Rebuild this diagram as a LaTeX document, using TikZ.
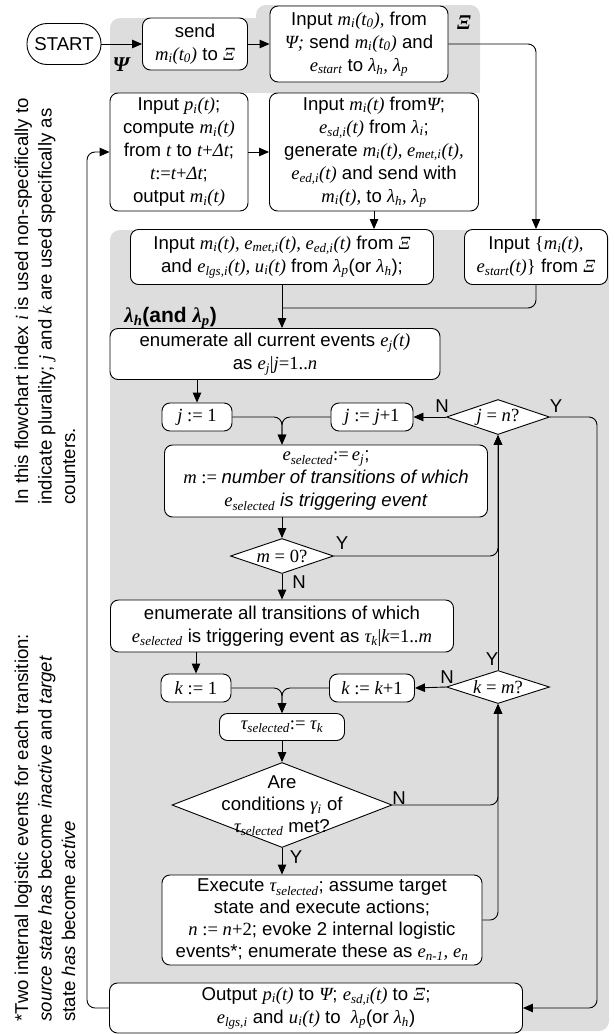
\documentclass[tikz,border=0pt]{standalone}
\usepackage{fontspec}
\setmainfont{Liberation Sans}
\newfontfamily\tms{Liberation Serif}
\usetikzlibrary{shapes.geometric,arrows.meta}
\definecolor{panel}{RGB}{221,221,221}
% variables and symbols in Times-like italic, operators upright
\newcommand\mth[1]{{\tms\itshape #1}}
\newcommand\up[1]{{\tms #1}}
\newcommand\sbx[1]{\textsubscript{#1}}

\begin{document}
\begin{tikzpicture}[x=1pt,y=-1pt,
  font=\fontsize{18.6}{23}\selectfont,
  line width=0.9pt,
  box/.style={draw, fill=white, rounded corners=8, inner sep=0pt, align=center},
  decision/.style={draw, fill=white, diamond, inner sep=0pt},
  arr/.style={-{Triangle[length=10pt,width=8.5pt]}},
  yn/.style={inner sep=0pt},
  note/.style={rotate=90, anchor=base west, inner sep=0pt},
  panellab/.style={inner sep=0pt, font=\fontsize{21}{24}\selectfont\bfseries},
]
\useasboundingbox (0,0) rectangle (614,1034);

% background panels
\fill[panel, rounded corners=10] (110,18) rectangle (270,93);
\fill[panel, rounded corners=10] (256,5) rectangle (480,93);
\fill[panel] (110,60) rectangle (480,93);
\fill[panel, rounded corners=10] (110,230) rectangle (609,1031);

% panel labels
\node[panellab] (psilab) at (121,65) {\mth{Ψ}};
\node[panellab] (xilab) at (464,23) {\mth{Ξ}};
\node[panellab, anchor=west] (lamlab) at (124,318) {\mth{λ\sbx{h}}(and \mth{λ\sbx{p}})};

% process boxes
\node[box, rounded corners=20, minimum width=74, minimum height=41] (start) at (64,44) {START};
\node[box, minimum width=105, minimum height=52] (send) at (195,44) {send\\\mth{m\sbx{i}(t\sbx{0})} to \mth{Ξ}};
\node[box, minimum width=178, minimum height=76] (xin) at (359,44) {Input \mth{m\sbx{i}(t\sbx{0}),} from\\\mth{Ψ;} send \mth{m\sbx{i}(t\sbx{0})} and\\\mth{e\sbx{start}} to \mth{λ\sbx{h},} \mth{λ\sbx{p}}};
\node[box, minimum width=138, minimum height=118] (comp) at (179,152) {Input \mth{p\sbx{i}(t)};\\compute \mth{m\sbx{i}(t)}\\from \mth{t} to \mth{t}\up{+}\mth{Δt};\\\mth{t}\up{:=}\mth{t}\up{+}\mth{Δt};\\output \mth{m\sbx{i}(t)}};
\node[box, minimum width=209, minimum height=118] (gen) at (374,152) {Input \mth{m\sbx{i}(t)} from\mth{Ψ};\\\mth{e\sbx{sd,i}(t)} from \mth{λ\sbx{i}};\\generate \mth{m\sbx{i}(t), e\sbx{met,i}(t),}\\\mth{e\sbx{ed,i}(t)} and send with\\\mth{m\sbx{i}(t),} to \mth{λ\sbx{h}, λ\sbx{p}}};
\node[box, minimum width=303, minimum height=55] (lin) at (282,257) {Input \mth{m\sbx{i}(t), e\sbx{met,i}(t), e\sbx{ed,i}(t)} from \mth{Ξ}\\and \mth{e\sbx{lgs,i}(t), u\sbx{i}(t)} from \mth{λ\sbx{p}}(or \mth{λ\sbx{h}});};
\node[box, minimum width=143, minimum height=55] (sin) at (536,257) {Input \up{\{}\mth{m\sbx{i}(t),}\\\mth{e\sbx{start}(t)}\up{\}} from \mth{Ξ}};
\node[box, minimum width=330, minimum height=51] (enev) at (275,354) {enumerate all current events \mth{e\sbx{j}(t)}\\as \mth{e\sbx{j}}\up{|}\mth{j}\up{=1..}\mth{n}};
\node[box, minimum width=70, minimum height=28] (j1) at (197,417) {\mth{j}\up{ := 1}};
\node[box, minimum width=82, minimum height=28] (jinc) at (372,417) {\mth{j}\up{ := }\mth{j}\up{+1}};
\node[decision, minimum width=103, minimum height=35] (jn) at (498,417) {};
\node[inner sep=0] (jnt) at (498,417) {\mth{j}\up{ = }\mth{n}\up{?}};
\node[box, minimum width=323, minimum height=72] (esel) at (326,481) {\mth{e\sbx{selected}}\up{:=}\,\mth{e\sbx{j}};\\\mth{m}\up{ := }\textit{number of transitions of which}\\\mth{e\sbx{selected}} \textit{is triggering event}};
\node[decision, minimum width=103, minimum height=35] (m0) at (282,556) {};
\node[inner sep=0] (m0t) at (282,556) {\mth{m}\up{ = 0?}};
\node[box, minimum width=343, minimum height=52] (entr) at (282,626) {enumerate all transitions of which\\\mth{e\sbx{selected}} is triggering event as \mth{τ\sbx{k}}\up{|}\mth{k}\up{=1..}\mth{m}};
\node[box, minimum width=70, minimum height=28] (k1) at (196,688) {\mth{k}\up{ := 1}};
\node[box, minimum width=85, minimum height=28] (kinc) at (372,688) {\mth{k}\up{ := }\mth{k}\up{+1}};
\node[decision, minimum width=103, minimum height=33] (km) at (498,687) {};
\node[inner sep=0] (kmt) at (498,687) {\mth{k}\up{ = }\mth{m}\up{?}};
\node[box, minimum width=125, minimum height=27] (tsel) at (282,727) {\mth{τ\sbx{selected}}\up{:= }\mth{τ\sbx{k}}};
\node[decision, minimum width=220, minimum height=85] (cond) at (282,805) {};
\node[inner sep=0, align=center, font=\fontsize{18.6}{22}\selectfont] (condt) at (282,806) {Are\\conditions \mth{γ\sbx{i}} of\\\mth{τ\sbx{selected}} met?};
\node[box, minimum width=320, minimum height=90, font=\fontsize{18.6}{22}\selectfont] (exe) at (322,920) {Execute \mth{τ\sbx{selected}}; assume target\\state and execute actions;\\\mth{n}\up{ := }\mth{n}\up{+2}; evoke 2 internal logistic\\events*; enumerate these as \mth{e\sbx{n-1}, e\sbx{n}}};
\node[box, minimum width=413, minimum height=50] (out) at (316,1008) {Output \mth{p\sbx{i}(t)} to \mth{Ψ}; \mth{e\sbx{sd,i}(t)} to \mth{Ξ};\\\mth{e\sbx{lgs,i}} and \mth{u\sbx{i}(t)} to \ \mth{λ\sbx{p}}(or \mth{λ\sbx{h}})};

% routing points
\coordinate (rr) at (597,417);
\coordinate (lx) at (87,1008);
\coordinate (mrg) at (282,308);

% connectors
\draw[arr] (start.east) -- (send.west);
\draw[arr] (send.east) -- (xin.west);
\draw[arr, rounded corners=8] (xin.east) -| (sin.north);
\draw[arr] (comp.east) -- (gen.west);
\draw[arr] (gen.south) -- (gen.south |- lin.north);
\draw[arr] (lin.south) -- (lin.south |- enev.north);
\draw[rounded corners=8] (sin.south) |- (mrg);
\draw[arr] (enev.south -| j1.north) -- (j1.north);
\draw[arr, rounded corners=8] (j1.east) -| (esel.north -| m0.north);
\draw[arr, rounded corners=8] (jinc.west) -| (esel.north -| m0.north);
\draw[arr] (jn.west) -- (jinc.east);
\draw[arr, rounded corners=8] (jn.east) -- (rr) |- (out.east);
\draw[arr] (esel.south -| m0.north) -- (m0.north);
\draw[arr, rounded corners=8] (m0.east) -| (jn.south);
\draw[arr] (m0.south) -- (entr.north);
\draw[arr] (entr.south -| k1.north) -- (k1.north);
\draw[arr, rounded corners=8] (k1.east) -| (tsel.north);
\draw[arr, rounded corners=8] (kinc.west) -| (tsel.north);
\draw[arr] (km.west) -- (kinc.east);
\draw[arr] (km.north) -- (jn.south);
\draw[arr] (tsel.south) -- (cond.north);
\draw[arr, rounded corners=8] (cond.east) -| (km.south);
\draw[arr] (cond.south) -- (exe.north -| cond.south);
\draw[arr, rounded corners=8] (exe.east) -| (km.south);
\draw[arr, rounded corners=8] (out.west) -- (lx) |- (comp.west);

% branch labels
\node[yn] (jnN) at (442,406) {N};
\node[yn] (jnY) at (556,406) {Y};
\node[yn] (m0Y) at (342,543) {Y};
\node[yn] (m0N) at (299,582) {N};
\node[yn] (kmY) at (492,659) {Y};
\node[yn] (kmN) at (447,677) {N};
\node[yn] (condN) at (399,798) {N};
\node[yn] (condY) at (296,857) {Y};

% side notes
\node[note] (na1) at (28,505) {In this flowchart index \mth{i} is used non-specifically to};
\node[note] (na2) at (51.5,505) {indicate plurality; \mth{j} and \mth{k} are used specifically as};
\node[note] (na3) at (75,505) {counters.};
\node[note] (nb1) at (28,1022) {*Two internal logistic events for each transition:};
\node[note] (nb2) at (51.5,1022) {\textit{source state has} become \textit{inactive} and \textit{target}};
\node[note] (nb3) at (75,1022) {state \textit{has} become \textit{active}};
\end{tikzpicture}
\end{document}
